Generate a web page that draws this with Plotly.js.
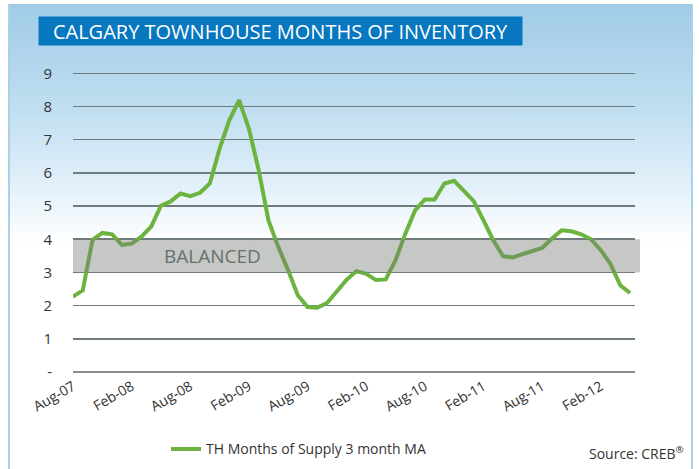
<!DOCTYPE html>
<html>
<head>
<meta charset="utf-8">
<script src="https://cdn.plot.ly/plotly-3.0.1.min.js"></script>
<style>
  html, body { margin: 0; padding: 0; background: #ffffff; }
  #frame {
    position: absolute; left: 8px; top: 4px; width: 681px; height: 470px;
    border-left: 2px solid #a9d1ea; border-right: 2px solid #a9d1ea;
    background: linear-gradient(to bottom, #a0cbe7 0px, #c2dff1 110px, #e4f1fa 185px, #ffffff 240px, #ffffff 100%);
  }
  #chart { position: absolute; left: 0; top: 0; width: 699px; height: 469px; }
</style>
</head>
<body>
<div id="frame"></div>
<div id="chart"></div>
<script>
const months = [
  "Aug-07","Sep-07","Oct-07","Nov-07","Dec-07",
  "Jan-08","Feb-08","Mar-08","Apr-08","May-08","Jun-08","Jul-08","Aug-08","Sep-08","Oct-08","Nov-08","Dec-08",
  "Jan-09","Feb-09","Mar-09","Apr-09","May-09","Jun-09","Jul-09","Aug-09","Sep-09","Oct-09","Nov-09","Dec-09",
  "Jan-10","Feb-10","Mar-10","Apr-10","May-10","Jun-10","Jul-10","Aug-10","Sep-10","Oct-10","Nov-10","Dec-10",
  "Jan-11","Feb-11","Mar-11","Apr-11","May-11","Jun-11","Jul-11","Aug-11","Sep-11","Oct-11","Nov-11","Dec-11",
  "Jan-12","Feb-12","Mar-12","Apr-12","May-12"
];
const supply = [
  2.27, 2.46, 3.98, 4.19, 4.15, 3.83, 3.87, 4.08, 4.38, 5.01,
  5.14, 5.38, 5.30, 5.40, 5.68, 6.73, 7.59, 8.19, 7.33, 6.08,
  4.57, 3.77, 3.07, 2.31, 1.96, 1.94, 2.08, 2.41, 2.78, 3.04,
  2.96, 2.77, 2.79, 3.37, 4.17, 4.87, 5.20, 5.20, 5.68, 5.76,
  5.46, 5.15, 4.57, 3.97, 3.49, 3.45, 3.55, 3.64, 3.74, 4.02,
  4.27, 4.24, 4.15, 4.00, 3.67, 3.25, 2.61, 2.38
];
const xTickLabels = ["Aug-07","Feb-08","Aug-08","Feb-09","Aug-09","Feb-10","Aug-10","Feb-11","Aug-11","Feb-12"];
const yTickVals = [0,1,2,3,4,5,6,7,8,9];
const yTickText = ["-","1","2","3","4","5","6","7","8","9"];
const balancedLow = 3, balancedHigh = 4;
const seriesName = "TH Months of Supply 3 month MA";
const chartTitle = "CALGARY TOWNHOUSE MONTHS OF INVENTORY";
const sourceText = "Source: CREB<sup>®</sup>";

const FONT = "Open Sans, Noto Sans, sans-serif";
const PL = 73, PW = 562, PT = 70, PH = 301.7;
const px2x = p => (p - PL) / PW;
const py2y = p => (PT + PH - p) / PH;

const trace = {
  type: "scatter", mode: "lines",
  x: months, y: supply, name: seriesName,
  line: { color: "#6cb33f", width: 4 },
  showlegend: true
};

const layout = {
  width: 699, height: 469,
  paper_bgcolor: "rgba(0,0,0,0)", plot_bgcolor: "rgba(0,0,0,0)",
  margin: { l: PL, r: 699 - PL - PW, t: PT, b: 469 - PT - PH, pad: 0, autoexpand: false },
  font: { family: FONT, color: "#333333", size: 13 },
  xaxis: {
    type: "category", automargin: false,
    range: [0, 57.5],
    tickmode: "array", tickvals: xTickLabels, ticktext: xTickLabels,
    tickangle: -30,
    showgrid: false, zeroline: false, showline: false,
    ticks: "", ticklabelstandoff: 3,
    tickfont: { size: 14, color: "#333333", family: FONT }
  },
  yaxis: {
    range: [0, 9.1], automargin: false,
    tickmode: "array", tickvals: yTickVals, ticktext: yTickText,
    showgrid: true, gridcolor: "#6f7c7c", gridwidth: 1.6,
    zeroline: true, zerolinecolor: "#8c8c8c", zerolinewidth: 2.5,
    showline: false, ticks: "",
    ticklabelstandoff: 20,
    tickfont: { size: 15, color: "#333333", family: FONT }
  },
  legend: {
    orientation: "h", x: px2x(166), xanchor: "left", y: py2y(449), yanchor: "middle",
    font: { size: 14, color: "#333333", family: FONT },
    bgcolor: "rgba(0,0,0,0)"
  },
  shapes: [
    {
      type: "rect", xref: "paper", yref: "y",
      x0: 0, x1: px2x(640), y0: balancedLow, y1: balancedHigh,
      fillcolor: "rgba(118,124,120,0.42)", line: { width: 0 }, layer: "above"
    }
  ],
  annotations: [
    {
      text: "BALANCED", xref: "paper", yref: "y",
      x: px2x(212), xanchor: "center", y: (balancedLow + balancedHigh) / 2, yanchor: "middle",
      showarrow: false,
      font: { size: 19, color: "#66706b", family: FONT }
    },
    {
      text: chartTitle, xref: "paper", yref: "paper",
      x: px2x(38), xanchor: "left",
      y: py2y(31), yanchor: "middle",
      showarrow: false,
      bgcolor: "#0777bf", borderpad: 2,
      width: 479, height: 24, align: "center",
      font: { size: 20, color: "#ffffff", family: FONT }
    },
    {
      text: sourceText, xref: "paper", yref: "paper",
      x: px2x(686), xanchor: "right",
      y: py2y(453), yanchor: "middle",
      showarrow: false,
      font: { size: 14, color: "#333333", family: FONT }
    }
  ]
};

Plotly.newPlot("chart", [trace], layout, { displayModeBar: false, staticPlot: true });
</script>
</body>
</html>
